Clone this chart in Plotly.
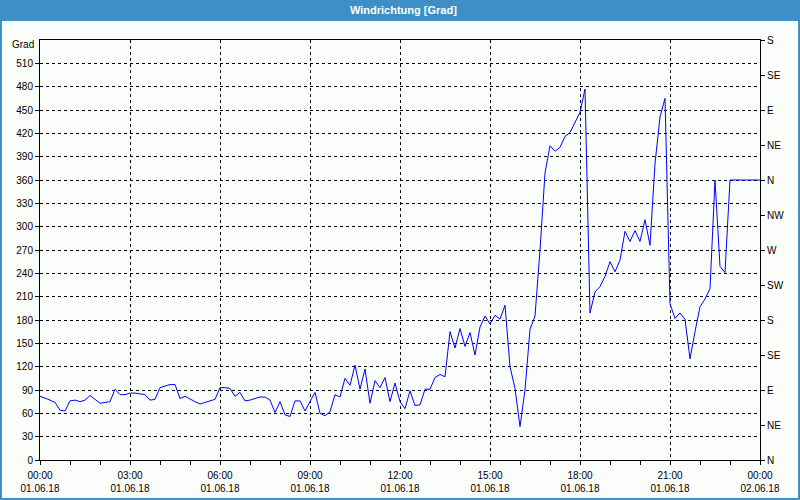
import plotly.graph_objects as go
import pandas as pd

# ---- data -------------------------------------------------------------
start = "2018-06-01 00:00"
end = "2018-06-02 00:00"
step_minutes = 10
direction = [
    82, 80, 77, 74, 64, 63, 76, 77, 75, 77,
    83, 78, 73, 74, 75, 91, 84, 84, 86, 86,
    85, 84, 77, 78, 93, 95, 97, 97, 79, 82,
    78, 75, 72, 74, 76, 78, 93, 93, 92, 82,
    87, 76, 77, 79, 81, 81, 77, 61, 75, 58,
    56, 76, 76, 63, 75, 87, 60, 57, 62, 84,
    81, 105, 96, 122, 91, 117, 73, 102, 93, 106,
    75, 99, 75, 66, 89, 70, 71, 91, 91, 106,
    110, 107, 165, 144, 169, 146, 164, 135, 171, 185,
    175, 186, 181, 199, 120, 92, 43, 90, 168, 185,
    270, 369, 404, 397, 402, 416, 421, 433, 447, 477,
    189, 216, 223, 236, 255, 242, 257, 294, 281, 295,
    281, 309, 276, 381, 441, 465, 201, 182, 189, 181,
    130, 165, 197, 207, 220, 360, 249, 241, 360, 360,
    360, 360, 360, 360, 360,
]
times = pd.date_range(start, periods=len(direction), freq=f"{step_minutes}min")

tick_times = ["2018-06-01 00:00", "2018-06-01 03:00", "2018-06-01 06:00",
              "2018-06-01 09:00", "2018-06-01 12:00", "2018-06-01 15:00",
              "2018-06-01 18:00", "2018-06-01 21:00", "2018-06-02 00:00"]
tick_hours = ["00:00", "03:00", "06:00", "09:00", "12:00", "15:00",
              "18:00", "21:00", "00:00"]
tick_dates = ["01.06.18", "01.06.18", "01.06.18", "01.06.18", "01.06.18",
              "01.06.18", "01.06.18", "01.06.18", "02.06.18"]
grad_ticks = list(range(0, 541, 30))
compass_vals = list(range(0, 541, 45))
compass_text = ["N", "NE", "E", "SE", "S", "SW", "W", "NW",
                "N", "NE", "E", "SE", "S"]

# ---- styling ----------------------------------------------------------
FONT = "Liberation Sans"
BG = "#fbfdfb"
BLUE_BAR = "#3d8fc6"
W, H = 800, 500
L, R, T, B = 40, 40, 40, 40
PW, PH = W - L - R, H - T - B


def px_x(px):
    return (px - L) / PW


def px_y(py):
    return (H - B - py) / PH


fig = go.Figure()
fig.add_trace(go.Scatter(
    x=times, y=direction, mode="lines",
    line=dict(color="#0000ff", width=1), showlegend=False,
))
# carrier trace for the secondary (date labels / compass) axes
fig.add_trace(go.Scatter(
    x=times, y=direction, mode="lines", xaxis="x2", yaxis="y2",
    line=dict(color="rgba(0,0,0,0)", width=0), showlegend=False,
    hoverinfo="skip",
))

grid = dict(showgrid=True, gridcolor="#000000", gridwidth=1, griddash="3px,3px")
tickfont = dict(family=FONT, size=10, color="#000000")

fig.update_layout(
    width=W, height=H,
    margin=dict(l=L, r=R, t=T, b=B, pad=0, autoexpand=False),
    paper_bgcolor=BG, plot_bgcolor=BG,
    xaxis=dict(
        range=[start, end], tickvals=tick_times, ticktext=tick_hours,
        ticks="outside", ticklen=4, tickcolor="#000", tickfont=tickfont,
        showline=True, linecolor="#000", linewidth=1, mirror=True,
        minor=dict(dtick=3600000, ticks="outside", ticklen=4, tickcolor="#000",
                   showgrid=False),
        zeroline=False, automargin=False, ticklabelstandoff=2, **grid,
    ),
    xaxis2=dict(
        range=[start, end], overlaying="x", anchor="y", side="bottom",
        tickvals=tick_times, ticktext=tick_dates, ticks="", tickfont=tickfont,
        showline=False, showgrid=False, zeroline=False, automargin=False,
        ticklabelstandoff=21,
    ),
    yaxis=dict(
        range=[0, 540], tickvals=grad_ticks[:-1], ticks="outside", ticklen=4,
        tickcolor="#000", tickfont=tickfont, showline=True, linecolor="#000",
        linewidth=1, mirror=True, zeroline=False, automargin=False, **grid,
    ),
    yaxis2=dict(
        range=[0, 540], overlaying="y", anchor="x", side="right",
        tickvals=compass_vals, ticktext=compass_text, ticks="outside",
        ticklen=4, tickcolor="#000", tickfont=tickfont, showline=True,
        linecolor="#000", linewidth=1, showgrid=False, zeroline=False,
        automargin=False,
    ),
    shapes=[
        dict(type="rect", xref="paper", yref="paper",
             x0=px_x(0), x1=px_x(W), y0=px_y(0), y1=px_y(21),
             fillcolor=BLUE_BAR, line=dict(width=0), layer="above"),
        dict(type="rect", xref="paper", yref="paper",
             x0=px_x(1), x1=px_x(W - 1), y0=px_y(1), y1=px_y(H - 1),
             fillcolor="rgba(0,0,0,0)", line=dict(color=BLUE_BAR, width=2)),
    ],
    annotations=[
        dict(text="<b>Windrichtung [Grad]</b>", xref="paper", yref="paper",
             x=px_x(403), y=px_y(10), xanchor="center", yanchor="middle",
             showarrow=False, font=dict(family=FONT, size=11, color="#ffffff")),
        dict(text="Grad", xref="paper", yref="paper",
             x=px_x(36), y=px_y(45), xanchor="right", yanchor="middle",
             showarrow=False, font=tickfont),
    ],
)

fig.write_html("out.html")
